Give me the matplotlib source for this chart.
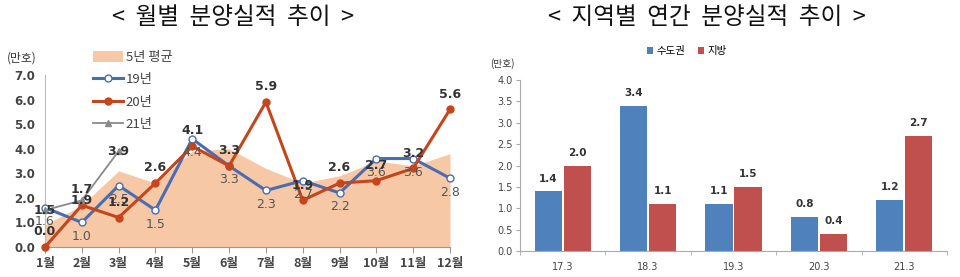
import matplotlib
matplotlib.use("Agg")
import matplotlib.pyplot as plt
from matplotlib.lines import Line2D
from matplotlib.patches import Patch
import numpy as np

plt.rcParams['font.family'] = ['Noto Sans CJK KR', 'DejaVu Sans']

# ---------------- data ----------------
months = ['1월', '2월', '3월', '4월', '5월', '6월', '7월', '8월', '9월', '10월', '11월', '12월']
avg5 = [0.9, 1.7, 3.1, 2.6, 3.9, 4.0, 3.2, 2.6, 2.9, 3.5, 3.3, 3.8]
y19 = [1.6, 1.0, 2.5, 1.5, 4.4, 3.3, 2.3, 2.7, 2.2, 3.6, 3.6, 2.8]
y20 = [0.0, 1.7, 1.2, 2.6, 4.1, 3.3, 5.9, 1.9, 2.6, 2.7, 3.2, 5.6]
y21 = [1.5, 1.9, 3.9]
left_yticks = [0.0, 1.0, 2.0, 3.0, 4.0, 5.0, 6.0, 7.0]

periods = ['17.3', '18.3', '19.3', '20.3', '21.3']
capital = [1.4, 3.4, 1.1, 0.8, 1.2]
local = [2.0, 1.1, 1.5, 0.4, 2.7]
right_yticks = [0.0, 0.5, 1.0, 1.5, 2.0, 2.5, 3.0, 3.5, 4.0]

# ---------------- style ----------------
c_area = '#F7C8A6'
c_blue = '#4A6DB0'
c_red = '#C4461C'
c_gray = '#8A8A8A'
c_bar_blue = '#4F81BD'
c_bar_red = '#C0504D'
txt_dark = '#333333'
txt_gray = '#555555'

fig = plt.figure(figsize=(9.6, 2.77), dpi=100)

fig.text(233 / 960, 1 - 18 / 277, '<  월별  분양실적  추이  >', ha='center', va='center',
         fontsize=17, color='#111111')
fig.text(707 / 960, 1 - 18 / 277, '<  지역별  연간  분양실적  추이  >', ha='center', va='center',
         fontsize=17, color='#111111')

# ---------------- left chart ----------------
axL = fig.add_axes([45 / 960, 1 - 247 / 277, (450 - 45) / 960, (247 - 75) / 277])
x = np.arange(1, 13)
axL.fill_between(x, 0, avg5, color=c_area, lw=0, zorder=1)
axL.plot(x, y19, color=c_blue, lw=2.2, marker='o', ms=5, mfc='white', mec=c_blue,
         mew=1.0, zorder=3, clip_on=False)
axL.plot(x, y20, color=c_red, lw=2.2, marker='o', ms=5, mfc=c_red, mec=c_red,
         zorder=4, clip_on=False)
x21 = np.arange(1, len(y21) + 1)
axL.plot(x21, y21, color=c_gray, lw=1.3, marker='^', ms=4, mfc=c_gray, mec=c_gray,
         zorder=5, clip_on=False)

for xi, v in zip(x, y19):
    axL.annotate(f'{v:.1f}', (xi, v), xytext=(0, -10), textcoords='offset points',
                 ha='center', va='center', fontsize=9, color=txt_gray,
                 family='DejaVu Sans', zorder=6)
for xi, v in zip(x, y20):
    axL.annotate(f'{v:.1f}', (xi, v), xytext=(0, 11), textcoords='offset points',
                 ha='center', va='center', fontsize=9, color=txt_dark, fontweight='bold',
                 family='DejaVu Sans', zorder=6)
for xi, v in zip(x21, y21):
    axL.annotate(f'{v:.1f}', (xi, v), xytext=(0, 0), textcoords='offset points',
                 ha='center', va='center', fontsize=9, color=txt_dark, fontweight='bold',
                 family='DejaVu Sans', zorder=6)

axL.set_xlim(1, 12)
axL.set_ylim(0, 7)
axL.set_yticks(left_yticks)
axL.set_yticklabels([f'{t:.1f}' for t in left_yticks], fontsize=8.5, color='#444444',
                    family='DejaVu Sans', fontweight='bold')
axL.set_xticks(x)
axL.set_xticklabels(months, fontsize=9, color='#444444', fontweight='bold')
axL.tick_params(axis='y', length=0, pad=7)
axL.tick_params(axis='x', length=4, color='#999999', pad=3, direction='out')
for s in ['top', 'right']:
    axL.spines[s].set_visible(False)
axL.spines['left'].set_color('#BBBBBB')
axL.spines['bottom'].set_color('#999999')
fig.text(22 / 960, 1 - 58 / 277, '(만호)', ha='center', va='center', fontsize=8.5,
         color='#333333')

handles = [
    Patch(facecolor=c_area, edgecolor='none'),
    Line2D([], [], color=c_blue, lw=2.2, marker='o', ms=5, mfc='white', mec=c_blue),
    Line2D([], [], color=c_red, lw=2.2, marker='o', ms=5, mfc=c_red, mec=c_red),
    Line2D([], [], color=c_gray, lw=1.3, marker='^', ms=4, mfc=c_gray, mec=c_gray),
]
leg = axL.legend(handles, ['5년 평균', '19년', '20년', '21년'], loc='upper left',
                 bbox_to_anchor=(0.105, 1.17), frameon=False, fontsize=9.5,
                 handlelength=2.3, handleheight=0.9, labelspacing=0.7, handletextpad=0.2,
                 borderaxespad=0)
for t in leg.get_texts():
    t.set_color('#444444')

# ---------------- right chart ----------------
axR = fig.add_axes([520 / 960, 1 - 251 / 277, (947 - 520) / 960, (251 - 80) / 277])
xr = np.arange(len(periods))
w = 0.32
b1 = axR.bar(xr - w / 2 - 0.01, capital, w, color=c_bar_blue, zorder=2)
b2 = axR.bar(xr + w / 2 + 0.01, local, w, color=c_bar_red, zorder=2)
for bars, vals in [(b1, capital), (b2, local)]:
    for rect, v in zip(bars, vals):
        axR.annotate(f'{v:.1f}', (rect.get_x() + rect.get_width() / 2, v),
                     xytext=(0, 9), textcoords='offset points', ha='center', va='center',
                     fontsize=7.5, fontweight='bold', color=txt_dark, family='DejaVu Sans')
axR.set_xlim(-0.5, len(periods) - 0.5)
axR.set_ylim(0, 4.0)
axR.set_yticks(right_yticks)
axR.set_yticklabels([f'{t:.1f}' for t in right_yticks], fontsize=7, color='#444444',
                    family='DejaVu Sans')
axR.set_xticks(xr)
axR.set_xticklabels(periods, fontsize=7, color='#444444', family='DejaVu Sans')
axR.set_xticks(np.arange(-0.5, len(periods)), minor=True)
axR.tick_params(axis='x', which='major', length=0, pad=8)
axR.tick_params(axis='x', which='minor', length=3, color='#AAAAAA')
axR.tick_params(axis='y', length=3, color='#AAAAAA', pad=2)
for s in ['top', 'right']:
    axR.spines[s].set_visible(False)
axR.spines['left'].set_color('#AAAAAA')
axR.spines['bottom'].set_color('#AAAAAA')
fig.text(502 / 960, 1 - 64 / 277, '(만호)', ha='center', va='center', fontsize=7,
         color='#333333')
axR.legend([Patch(facecolor=c_bar_blue), Patch(facecolor=c_bar_red)], ['수도권', '지방'],
           loc='center', bbox_to_anchor=(0.39, 1.17), ncol=2, frameon=False, fontsize=7.5,
           handlelength=0.6, handleheight=0.6, handletextpad=0.3, columnspacing=1.2)

fig.savefig('out.png', dpi=100)
